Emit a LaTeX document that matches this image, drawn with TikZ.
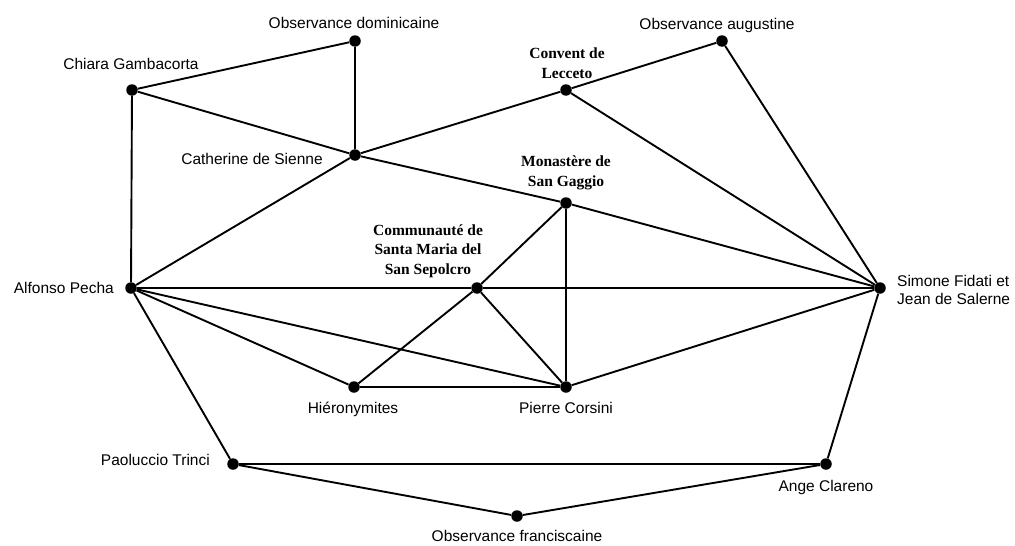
\documentclass[tikz,border=0pt]{standalone}
\usepackage{fontspec}
\setmainfont{Liberation Sans}
\newfontfamily\serifbold{Liberation Serif}[BoldFont={* Bold}]
\begin{document}
\begin{tikzpicture}[x=1pt,y=-1pt,
  dot/.style={circle,fill=black,inner sep=0pt,minimum size=11.5pt},
  lab/.style={inner sep=0pt,font=\fontsize{15.5}{18}\selectfont},
  slab/.style={inner sep=0pt,align=center,font=\fontsize{15.5}{19.5}\selectfont\serifbold\bfseries},
  edge/.style={line width=1.9pt}]
\useasboundingbox (0,0) rectangle (1015,546);
% dots
\node[dot] (obsdom) at (355,41) {};
\node[dot] (obsaug) at (722,41) {};
\node[dot] (chiara) at (132,90) {};
\node[dot] (lecceto) at (566,90) {};
\node[dot] (catherine) at (355,155) {};
\node[dot] (gaggio) at (566,203) {};
\node[dot] (commu) at (477,288) {};
\node[dot] (alfonso) at (131,288) {};
\node[dot] (simone) at (880,288) {};
\node[dot] (hieron) at (354,387) {};
\node[dot] (pierre) at (566,387) {};
\node[dot] (paoluccio) at (233,464) {};
\node[dot] (ange) at (826,464) {};
\node[dot] (obsfran) at (517,516) {};
% edges
\draw[edge] (obsdom) -- (chiara);
\draw[edge] (obsdom) -- (catherine);
\draw[edge] (chiara) -- (alfonso);
\draw[edge] (chiara) -- (catherine);
\draw[edge] (catherine) -- (gaggio);
\draw[edge] (gaggio) -- (simone);
\draw[edge] (catherine) -- (lecceto);
\draw[edge] (lecceto) -- (obsaug);
\draw[edge] (lecceto) -- (simone);
\draw[edge] (obsaug) -- (simone);
\draw[edge] (catherine) -- (alfonso);
\draw[edge] (alfonso) -- (commu);
\draw[edge] (commu) -- (simone);
\draw[edge] (alfonso) -- (hieron);
\draw[edge] (alfonso) -- (pierre);
\draw[edge] (gaggio) -- (commu);
\draw[edge] (commu) -- (hieron);
\draw[edge] (commu) -- (pierre);
\draw[edge] (gaggio) -- (pierre);
\draw[edge] (hieron) -- (pierre);
\draw[edge] (pierre) -- (simone);
\draw[edge] (alfonso) -- (paoluccio);
\draw[edge] (paoluccio) -- (ange);
\draw[edge] (paoluccio) -- (obsfran);
\draw[edge] (obsfran) -- (ange);
\draw[edge] (ange) -- (simone);
% labels
\node[lab,anchor=base] (lobsdom) at (354,28) {Observance dominicaine};
\node[lab,anchor=base] (lobsaug) at (717,29) {Observance augustine};
\node[lab,anchor=base] (lchiara) at (131,69) {Chiara Gambacorta};
\node[lab,anchor=base] (lcatherine) at (252,164) {Catherine de Sienne};
\node[lab,anchor=base east] (lalfonso) at (114,293) {Alfonso Pecha};
\node[lab,anchor=base] (lhieron) at (353,413) {Hiéronymites};
\node[lab,anchor=base] (lpierre) at (566,413) {Pierre Corsini};
\node[lab,anchor=base east] (lpaoluccio) at (210,465) {Paoluccio Trinci};
\node[lab,anchor=base] (lange) at (826,491) {Ange Clareno};
\node[lab,anchor=base] (lobsfran) at (517,541) {Observance franciscaine};
\node[lab,anchor=west,align=left] (lsimone) at (897,290) {Simone Fidati et\\Jean de Salerne};
\node[slab] (llecceto) at (567,63) {Convent de\\Lecceto};
\node[slab] (lgaggio) at (566,173) {Monastère de\\San Gaggio};
\node[slab] (lcommu) at (428,251) {Communauté de\\Santa Maria del\\San Sepolcro};
\end{tikzpicture}
\end{document}
